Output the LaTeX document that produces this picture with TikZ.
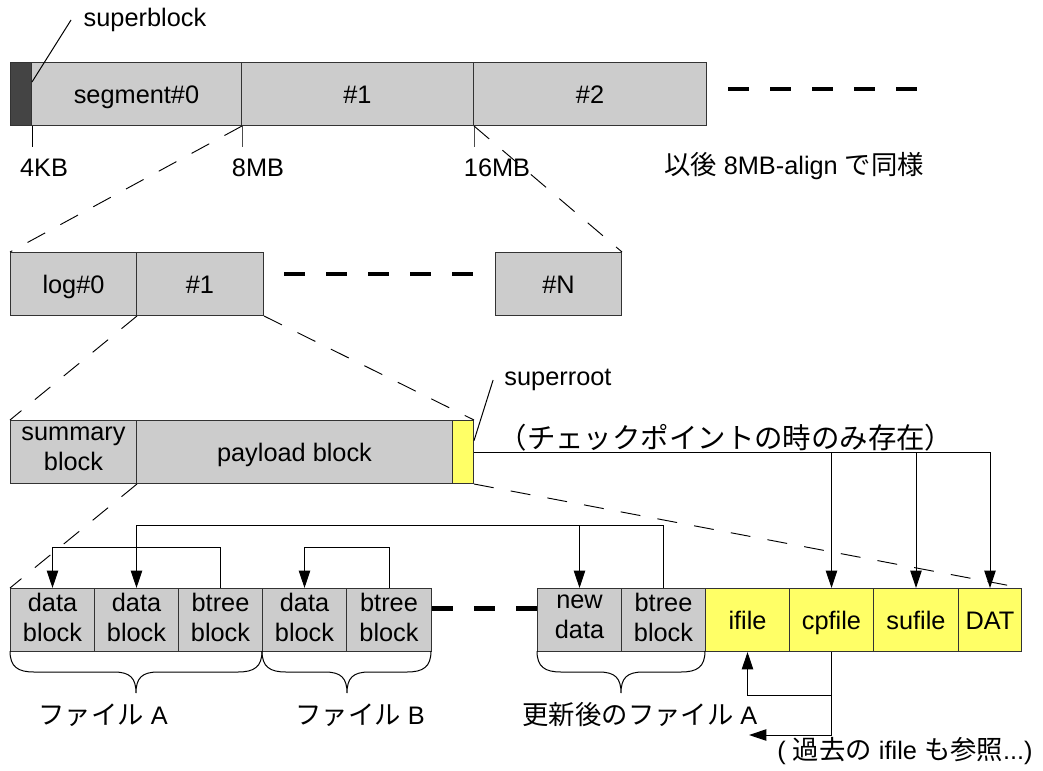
\documentclass[tikz,border=0pt]{standalone}
\usepackage{fontspec}
\setmainfont{Liberation Sans}
\newfontfamily\jp[Scale=1.04]{Noto Sans CJK JP}
\usetikzlibrary{arrows.meta,calc}

\definecolor{cellgray}{HTML}{CCCCCC}
\definecolor{cellyellow}{HTML}{FFFF66}
\definecolor{sbdark}{HTML}{444444}
\definecolor{edgecol}{HTML}{333333}

% invisible strut that keeps cell labels vertically balanced
\newcommand\cellstrut{\rule[-4.5pt]{0pt}{22.5pt}}

% curly brace under a group of blocks: left end, tip, right end (px)
\newcommand\groupbrace[3]{%
  \draw[bracestyle] (#1,651) .. controls (#1,667) and ({#1+8},672) .. ({#1+24},672)
    -- ({#2-22},672) .. controls ({#2-6},672) and (#2,678) .. (#2,693)
    .. controls (#2,678) and ({#2+6},672) .. ({#2+22},672)
    -- ({#3-24},672) .. controls ({#3-8},672) and (#3,667) .. (#3,651);}

\begin{document}
\begin{tikzpicture}[x=0.75pt,y=-0.75pt,
  every node/.style={font=\fontsize{19}{22.5}\selectfont, text=black},
  cell/.style={draw=edgecol, line width=0.75pt, fill=cellgray, anchor=north west,
    inner sep=0pt, align=center, minimum height=63*0.75pt,
    execute at begin node=\cellstrut, execute at end node=\cellstrut},
  ycell/.style={cell, fill=cellyellow},
  proj/.style={line width=0.7pt, dash pattern=on 15pt off 13pt},
  thickdash/.style={line width=3.6pt, dash pattern=on 15.75pt off 15.75pt},
  thin/.style={line width=0.75pt},
  arr/.style={line width=0.75pt, -{Triangle[length=13pt,width=8.5pt]}},
  bracestyle/.style={line width=0.75pt}]

\useasboundingbox (0,0) rectangle (1043,771);

% ---- whole device: superblock and segments
\node[cell, fill=sbdark, minimum width=21*0.75pt] (sb) at (10,62) {};
\node[cell, minimum width=210*0.75pt] (seg0) at (31,62) {segment\#0};
\node[cell, minimum width=232*0.75pt] (seg1) at (241,62) {\#1};
\node[cell, minimum width=233*0.75pt] (seg2) at (473,62) {\#2};
\draw[thickdash] ([xshift=15.75pt,yshift=3.75pt]seg2.east) -- ++(190,0);

\draw[thin] (sb.south east) -- ++(0,21);
\draw[thin, draw=black!70] (seg0.south east) -- ++(0,21);
\draw[thin, draw=black!70] (seg1.south east) -- ++(0,21);

\node (kb4) at (44,168) {4KB};
\node (mb8) at (258,168) {8MB};
\node (mb16) at (497,168) {16MB};
\node (align) at (794,166) {{\jp 以後} 8MB-align {\jp で同様}};

\node (sblabel) at (145,20) {superblock};
\draw[thin] ([yshift=9pt]sb.east) -- ([xshift=-6pt]sblabel.west);

% ---- one segment: logs
\node[cell, minimum width=126*0.75pt] (log0) at (10,252) {log\#0};
\node[cell, minimum width=127*0.75pt] (log1) at (136,252) {\#1};
\node[cell, minimum width=126*0.75pt] (logN) at (495,252) {\#N};
\draw[thickdash] ([xshift=15pt,yshift=7.5pt]log1.east) -- ([xshift=-15pt,yshift=7.5pt]logN.west);

\draw[proj] (seg0.south east) -- (log0.north west);
\draw[proj] (seg1.south east) -- (logN.north east);

% ---- one log: summary, payload, superroot
\node[cell, minimum width=126*0.75pt] (sum) at (10,420) {summary\\block};
\node[cell, minimum width=316*0.75pt] (pay) at (136,420) {payload block};
\node[ycell, minimum width=21*0.75pt] (sr) at (452,420) {};

\draw[proj] (log0.south east) -- (sum.north west);
\draw[proj] (log1.south east) -- (sr.north east);

\node (srlabel) at (558,380) {superroot};
\draw[thin] ([yshift=8.5pt]sr.east) -- ([xshift=-5pt]srlabel.west);

% ---- payload contents
\node[cell, minimum width=84*0.75pt] (d1) at (10,588) {data\\block};
\node[cell, minimum width=84*0.75pt] (d2) at (94,588) {data\\block};
\node[cell, minimum width=84*0.75pt] (bt1) at (178,588) {btree\\block};
\node[cell, minimum width=84*0.75pt] (d3) at (262,588) {data\\block};
\node[cell, minimum width=85*0.75pt] (bt2) at (346,588) {btree\\block};
\node[cell, minimum width=84*0.75pt] (nd) at (537,588) {new\\data};
\node[cell, minimum width=84*0.75pt] (nbt) at (621,588) {btree\\block};
\node[ycell, minimum width=84*0.75pt] (ifl) at (705,588) {ifile};
\node[ycell, minimum width=84*0.75pt] (cp) at (789,588) {cpfile};
\node[ycell, minimum width=85*0.75pt] (su) at (873,588) {sufile};
\node[ycell, minimum width=63*0.75pt] (dat) at (958,588) {DAT};
\draw[thickdash] ([yshift=8.5pt]bt2.east) -- ([yshift=8.5pt]nd.west);

\draw[proj] (sum.south east) -- (d1.north west);
\draw[proj] (sr.south east) -- (dat.north east);

% btree references to data blocks
\coordinate (outerrail) at (0,525);
\coordinate (innerrail) at (0,547);
\draw[arr] (bt1.north) -- (bt1.north |- innerrail) -| (d1.north);
\draw[arr] (bt2.north) -- (bt2.north |- innerrail) -| (d3.north);
\draw[arr] (nbt.north) -- (nbt.north |- outerrail) -| (d2.north);
\draw[arr] (nd.north |- outerrail) -- (nd.north);

% superroot references to metadata files
\draw[arr] (sr.east) -| (dat.north);
\draw[arr] (cp.north |- sr.east) -- (cp.north);
\draw[arr] (su.north |- sr.east) -- (su.north);
\node[font=\fontsize{20.5}{24}\selectfont] (cponly) at (726,438) {\jp （チェックポイントの時のみ存在）};

% cpfile references to ifile
\coordinate (pastref) at (749,735);
\draw[arr] (cp.south) -- ++(0,43) -| (ifl.south);
\draw[arr] (cp.south) |- (pastref);
\node (pastlabel) at (905,751) {( {\jp 過去の} ifile {\jp も参照}...)};

% file groupings
\groupbrace{10}{136}{262}
\groupbrace{262}{347}{431}
\groupbrace{537}{621}{705}
\node (fa) at (103,715) {{\jp ファイル} A};
\node (fb) at (360,715) {{\jp ファイル} B};
\node (fa2) at (640,715) {{\jp 更新後のファイル} A};

\end{tikzpicture}
\end{document}
